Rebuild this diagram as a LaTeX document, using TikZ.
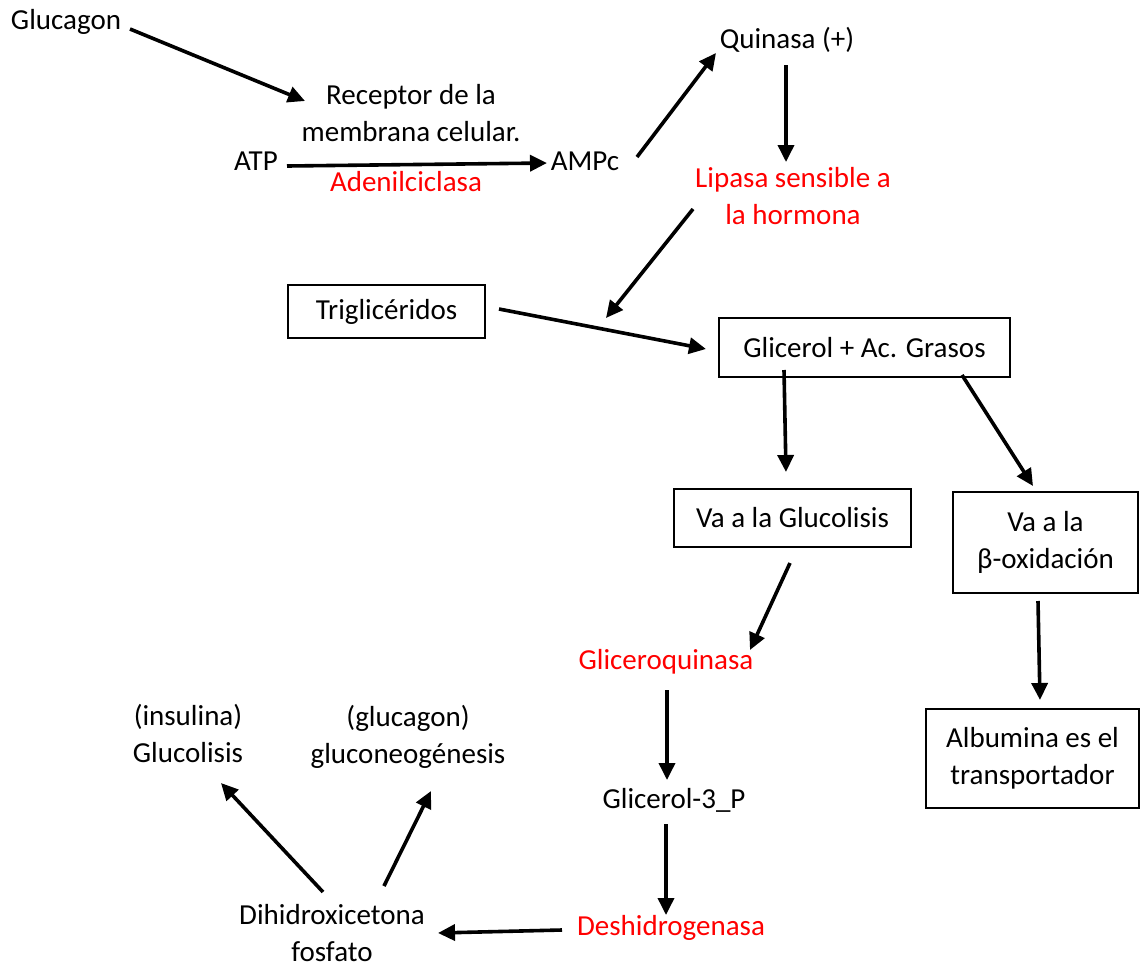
\documentclass[tikz,border=0pt]{standalone}
\usepackage{fontspec}
\setmainfont{Carlito}
\usetikzlibrary{arrows.meta,calc}
\newcommand\myfs{\fontsize{29}{37}\selectfont}
\begin{document}
\begin{tikzpicture}[x=1pt,y=-1pt,
  txt/.style={font=\myfs, align=center, inner sep=0pt},
  redtxt/.style={txt, text=red},
  box/.style={txt, draw, line width=1.4pt},
  arr/.style={line width=3.6pt, -{Triangle[length=17pt,width=16pt]}}]
\useasboundingbox (0,0) rectangle (1141,967);
% texts
\node[txt] (glucagon) at (66,22) {Glucagon};
\node[txt] (receptor) at (411,113) {Receptor de la\\membrana celular.};
\node[txt] (atp) at (256,161) {ATP};
\node[redtxt] (adenil) at (406,182) {Adenilciclasa};
\node[txt] (ampc) at (585,161) {AMPc};
\node[txt] (quinasa) at (787,40) {Quinasa (+)};
\node[redtxt] (lipasa) at (793,196) {Lipasa sensible a\\la hormona};
\node[box, minimum width=197, minimum height=53] (trig) at (386.5,311.5) {Triglicéridos};
\node[box, minimum width=291, minimum height=59] (glicerol) at (864.5,347.5) {Glicerol + Ac. Grasos};
\node[box, minimum width=237, minimum height=58] (glucol) at (792.5,518) {Va a la Glucolisis};
\node[box, minimum width=185, minimum height=101] (betaox) at (1045.5,542.5) {Va a la\\β-oxidación};
\node[redtxt] (gliceroq) at (666,662) {Gliceroquinasa};
\node[txt] (g3p) at (674,800) {Glicerol-3\_P};
\node[redtxt] (deshidro) at (671,928) {Deshidrogenasa};
\node[box, minimum width=213, minimum height=99] (albumina) at (1032.5,758.5) {Albumina es el\\transportador};
\node[txt] (insulina) at (188,733) {(insulina)\\Glucolisis};
\node[txt] (gluconeo) at (408,737) {(glucagon)\\gluconeogénesis};
\node[txt] (dihid) at (332,933) {Dihidroxicetona\\fosfato};
\coordinate (lipend) at (606,318);
% connectors
\draw[arr] ($(glucagon)+(64,7)$) -- ($(receptor)+(-106,-12)$);
\draw[arr] ($(atp)+(31,5)$) -- ($(ampc)+(-38,2)$);
\draw[arr] ($(ampc)+(52,-4)$) -- ($(quinasa)+(-71,13)$);
\draw[arr] ($(quinasa)+(-1,25)$) -- ($(lipasa)+(-7,-34)$);
\draw[arr] ($(lipasa)+(-100,13)$) -- (lipend);
\draw[arr] ($(trig)+(112.5,-2.5)$) -- ($(glicerol)+(-158.5,1.5)$);
\draw[arr] ($(glicerol)+(-80.5,22.5)$) -- ($(glucol)+(-6.5,-46)$);
\draw[arr] ($(glicerol)+(97.5,27.5)$) -- ($(betaox)+(-12.5,-56.5)$);
\draw[arr] ($(glucol)+(-2.5,45)$) -- ($(gliceroq)+(84,-12)$);
\draw[arr] ($(gliceroq)+(1,28)$) -- ($(g3p)+(-7,-20)$);
\draw[arr] ($(g3p)+(-8,24)$) -- ($(deshidro)+(-5,-13)$);
\draw[arr] ($(deshidro)+(-109,2)$) -- ($(dihid)+(106,0)$);
\draw[arr] ($(dihid)+(-9,-41)$) -- ($(insulina)+(33,50)$);
\draw[arr] ($(dihid)+(52,-47)$) -- ($(gluconeo)+(23,54)$);
\draw[arr] ($(betaox)+(-7.5,58.5)$) -- ($(albumina)+(7.5,-58.5)$);
\end{tikzpicture}
\end{document}
